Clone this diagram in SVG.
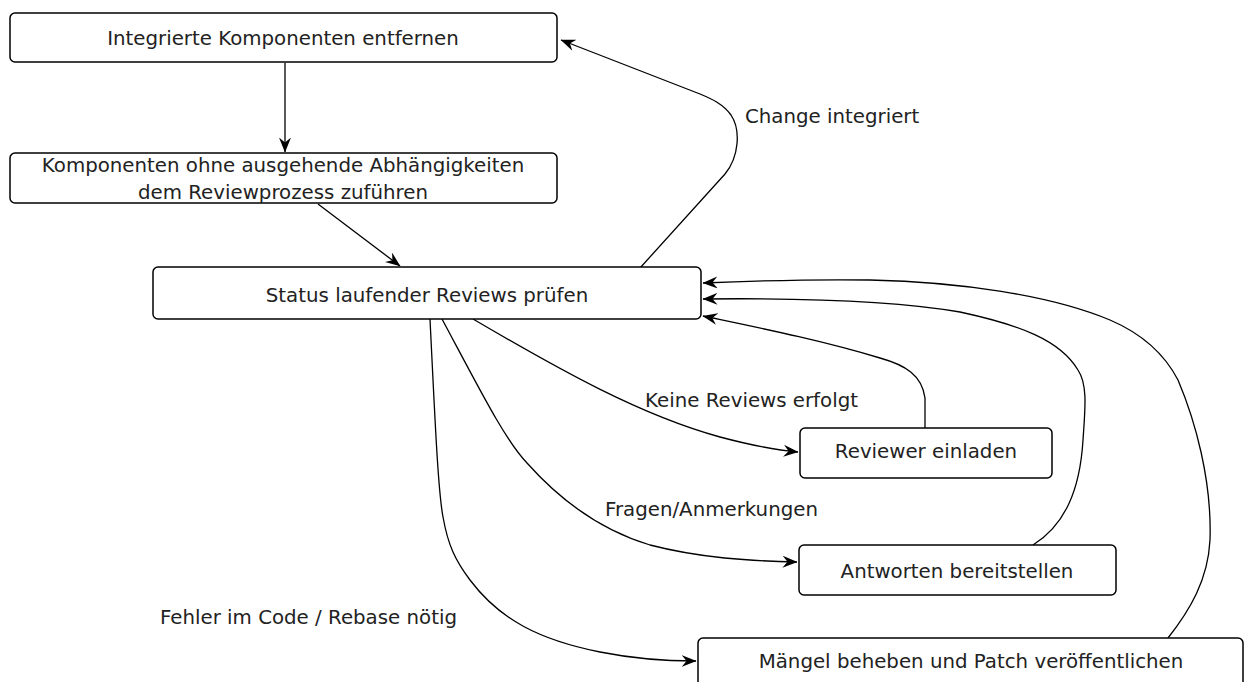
<svg xmlns="http://www.w3.org/2000/svg" width="1245" height="682" viewBox="0 0 1245 682">
<defs>
<style>
.box{fill:#fff;stroke:#000;stroke-width:1.5}
.t{font-family:"DejaVu Sans",sans-serif;font-size:19.8px;fill:#222}
.c{text-anchor:middle}
.e{fill:none;stroke:#000;stroke-width:1.3}
</style>
<marker id="ah" viewBox="0 0 15 12" refX="14.5" refY="6" markerWidth="15" markerHeight="12" markerUnits="userSpaceOnUse" orient="auto">
<path d="M0,0 L15,6 L0,12 L5,6 Z" fill="#000"/>
</marker>
</defs>
<rect width="1245" height="682" fill="#fff"/>
<g id="connectors">
<path class="e" marker-end="url(#ah)" d="M285,63 L285,152"/>
<path class="e" marker-end="url(#ah)" d="M318,204 L400,266"/>
<path class="e" marker-end="url(#ah)" d="M640,268 L725,174 C739,157 741,130 731,115 C723,104 712,99 700,94 L561,40"/>
<path class="e" marker-end="url(#ah)" d="M473,319 C560,370 640,415 720,437 C750,445 775,450 798,452"/>
<path class="e" marker-end="url(#ah)" d="M442,319 C480,390 505,440 527,463 C560,500 600,530 650,545 C700,558 750,561 797,562"/>
<path class="e" marker-end="url(#ah)" d="M430,319 C435,420 438,490 443,517 C448,545 455,560 470,580 C500,620 540,640 600,652 C640,660 670,661 696,661"/>
<path class="e" marker-end="url(#ah)" d="M925,428 L925,398 C922,375 905,365 880,358 C820,340 760,328 703,316"/>
<path class="e" marker-end="url(#ah)" d="M1033,545 C1065,525 1080,490 1083,440 C1085,410 1088,385 1078,370 C1060,340 1020,325 960,312 C890,300 790,298 703,299"/>
<path class="e" marker-end="url(#ah)" d="M1168,638 C1190,610 1208,580 1210,540 C1212,480 1195,420 1178,380 C1165,355 1145,335 1110,320 C1050,295 960,282 870,280 C800,279 750,281 703,283"/>
<text class="t" x="745" y="123">Change integriert</text>
<text class="t" x="645" y="407">Keine Reviews erfolgt</text>
<text class="t" x="605" y="516">Fragen/Anmerkungen</text>
<text class="t" x="160" y="624">Fehler im Code / Rebase nötig</text>
</g>
<g id="n1">
<rect class="box" x="10" y="13" width="547" height="49" rx="5"/>
<text class="t c" x="283" y="45">Integrierte Komponenten entfernen</text>
</g>
<g id="n2">
<rect class="box" x="10" y="153" width="547" height="50" rx="5"/>
<text class="t c" x="283" y="172">Komponenten ohne ausgehende Abhängigkeiten</text>
<text class="t c" x="283" y="199">dem Reviewprozess zuführen</text>
</g>
<g id="n3">
<rect class="box" x="153" y="267" width="548" height="52" rx="5"/>
<text class="t c" x="427" y="302">Status laufender Reviews prüfen</text>
</g>
<g id="n4">
<rect class="box" x="800" y="428" width="252" height="50" rx="5"/>
<text class="t c" x="926" y="458">Reviewer einladen</text>
</g>
<g id="n5">
<rect class="box" x="799" y="545" width="317" height="50" rx="5"/>
<text class="t c" x="957" y="578">Antworten bereitstellen</text>
</g>
<g id="n6">
<rect class="box" x="698" y="638" width="545" height="50" rx="5"/>
<text class="t c" x="971" y="668">Mängel beheben und Patch veröffentlichen</text>
</g>
</svg>
